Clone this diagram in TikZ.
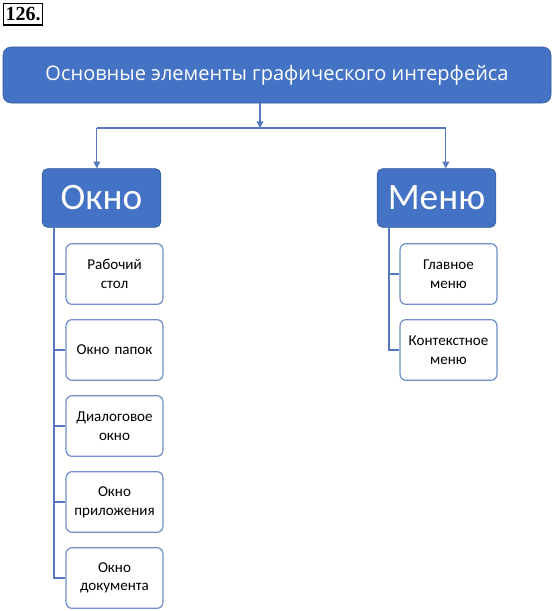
\documentclass[tikz,border=0pt]{standalone}
\usepackage{fontspec}
\setmainfont{Carlito}
\newfontfamily\titlefont{Open Sans}
\newfontfamily\numfont{Liberation Serif}
\usetikzlibrary{positioning,arrows.meta}
\definecolor{boxblue}{RGB}{68,114,196}
\definecolor{boxedge}{RGB}{50,86,150}
\definecolor{leafedge}{RGB}{112,142,200}
\definecolor{linkblue}{RGB}{88,120,190}
\begin{document}
\begin{tikzpicture}[x=0.75pt,y=-0.75pt,node distance=57pt]
\useasboundingbox (0,0) rectangle (553,611);

% Define block styles
\tikzstyle{head} = [rectangle,rounded corners=6pt, minimum width=411pt, minimum height=42pt, text centered, draw=boxedge, fill=boxblue, text=white, font=\titlefont\fontsize{15}{18}\selectfont]
\tikzstyle{group} = [rectangle,rounded corners=4pt, minimum width=89pt, minimum height=44pt, text centered, draw=boxedge, fill=boxblue, text=white, font=\fontsize{28}{30}\selectfont]
\tikzstyle{leaf} = [rectangle,rounded corners=4.5pt, minimum width=72pt, minimum height=45.5pt, text width=66pt, align=center, draw=leafedge, line width=0.9pt, fill=white, font=\fontsize{11.3}{14}\selectfont]
\tikzstyle{arrow} = [linkblue,line width=0.9pt,-{Triangle[length=5pt,width=5pt]}]
\tikzstyle{link} = [linkblue,line width=0.9pt]

% Define nodes
\node (num) [draw=black,line width=1pt,inner sep=1.5pt,minimum width=25pt,minimum height=16pt,anchor=north west,font=\numfont\bfseries\fontsize{15}{16}\selectfont] at (3,3) {126.};
\node (title) [head] at (277,75) {Основные элементы графического интерфейса};
\node (okno) [group] at (101.5,198) {Окно};
\node (menu) [group] at (436.5,198) {Меню};

\node (desk) [leaf, below of = okno, xshift=9.75pt] {Рабочий\\стол};
\node (folders) [leaf, below of = desk] {Окно папок};
\node (dialog) [leaf, below of = folders] {Диалоговое\\окно};
\node (app) [leaf, below of = dialog] {Окно\\приложения};
\node (doc) [leaf, below of = app] {Окно\\документа};

\node (mainmenu) [leaf, below of = menu, xshift=9pt] {Главное\\меню};
\node (context) [leaf, below of = mainmenu] {Контекстное\\меню};

% Draw arrows
\coordinate (bus) at (260,128);
\coordinate (oknotop) at ([xshift=-3.5pt]okno.north);
\coordinate (menutop) at ([xshift=7pt]menu.north);
\draw [arrow] (title.south -| bus) -- (bus);
\draw [link] (oknotop |- bus) -- (menutop |- bus);
\draw [arrow] (oknotop |- bus) -- (oknotop);
\draw [arrow] (menutop |- bus) -- (menutop);

% Trees under the two groups
\coordinate (oknoline) at ([xshift=9pt]okno.south west);
\coordinate (menuline) at ([xshift=9pt]menu.south west);
\draw [link] (oknoline) |- (doc.west);
\foreach \leaf in {desk,folders,dialog,app}
  \draw [link] (oknoline |- \leaf.west) -- (\leaf.west);
\draw [link] (menuline) |- (context.west);
\draw [link] (menuline |- mainmenu.west) -- (mainmenu.west);
\end{tikzpicture}
\end{document}
